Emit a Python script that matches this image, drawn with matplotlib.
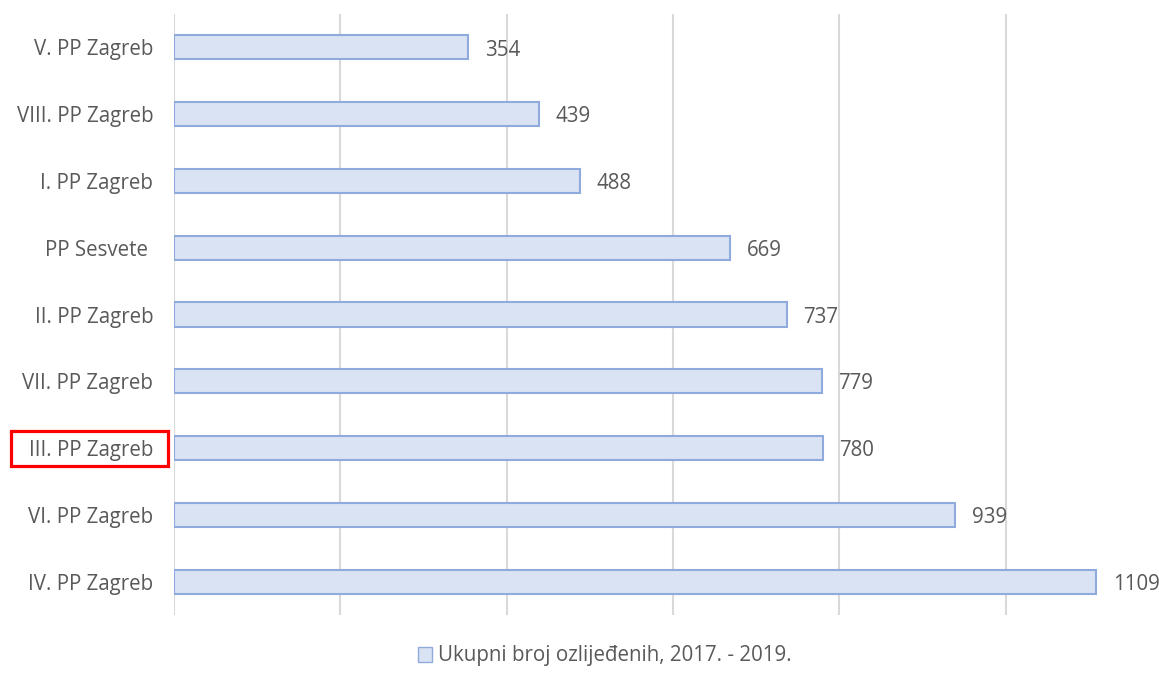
import matplotlib
matplotlib.use("Agg")
import matplotlib.pyplot as plt
from matplotlib.patches import Rectangle, Patch

stations = ["V. PP Zagreb", "VIII. PP Zagreb", "I. PP Zagreb", "PP Sesvete ",
            "II. PP Zagreb", "VII. PP Zagreb", "III. PP Zagreb", "VI. PP Zagreb",
            "IV. PP Zagreb"]
injured = [354, 439, 488, 669, 737, 779, 780, 939, 1109]
legend_label = "Ukupni broj ozlijeđenih, 2017. - 2019."
highlight = "III. PP Zagreb"

FILL = "#DAE3F3"
EDGE = "#8FAADC"
TXT = "#595959"
FS = 14.8
plt.rcParams["font.family"] = ["Open Sans", "DejaVu Sans"]

W, H = 1159, 679
fig = plt.figure(figsize=(W / 100, H / 100), dpi=100)
ax = fig.add_axes([174 / W, 1 - 615 / H, (1172 - 174) / W, (615 - 14) / H])

ypos = list(range(len(stations)))
ax.barh(ypos, injured, height=0.36, color=FILL, edgecolor=EDGE, linewidth=1.5, zorder=3)
for y, v in zip(ypos, injured):
    ax.text(v + 20, y + 0.04, str(v), va="center", ha="left", fontsize=FS, color=TXT,
            clip_on=False)

ax.set_xlim(0, 1200)
ax.set_ylim(len(stations) - 0.5, -0.5)
ax.set_xticks(range(0, 1201, 200))
ax.set_xticklabels([])
ax.set_yticks(ypos)
ax.set_yticklabels(stations, fontsize=FS, color=TXT)
ax.tick_params(axis="both", length=0)
ax.tick_params(axis="y", pad=15)
ax.grid(axis="x", color="#D9D9D9", linewidth=1.5, zorder=0)
for s in ax.spines.values():
    s.set_visible(False)

# red box around highlighted station label
fig.patches.append(Rectangle((11 / W, 1 - 466 / H), (168 - 11) / W, 35 / H,
                             transform=fig.transFigure, fill=False,
                             edgecolor="#FF0000", linewidth=2.3))

fig.legend(handles=[Patch(facecolor=FILL, edgecolor=EDGE, label=legend_label)],
           loc="center", bbox_to_anchor=(605 / W, 1 - 656 / H), frameon=False,
           fontsize=FS, labelcolor=TXT, handlelength=0.7, handleheight=0.7,
           handletextpad=0.3)

fig.savefig("out.png", dpi=100)
